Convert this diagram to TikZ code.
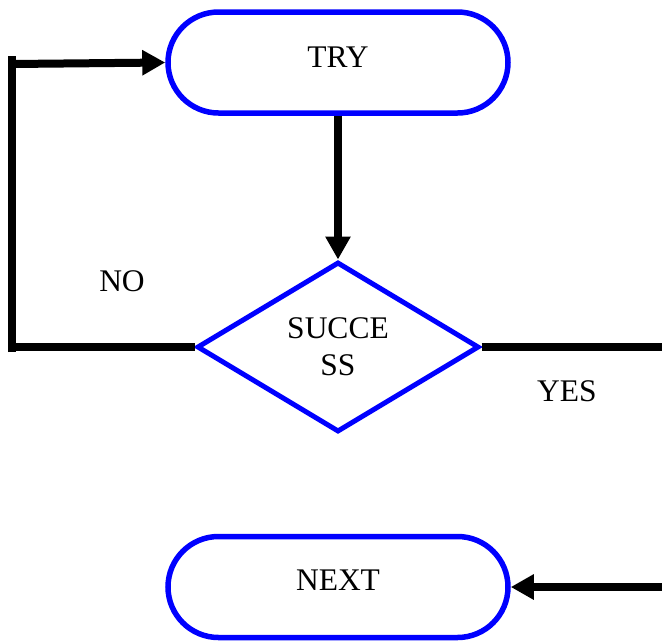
\documentclass[tikz,border=0pt]{standalone}
\usepackage{fontspec}
\setmainfont{Liberation Serif}
\usetikzlibrary{shapes.geometric,shapes.misc,arrows.meta}
\definecolor{fblue}{RGB}{0,0,255}
\tikzset{
  term/.style={rounded rectangle, draw=fblue, line width=5.5pt, minimum width=340pt, minimum height=101pt, inner sep=0pt, font=\fontsize{31.5}{37}\selectfont},
  decide/.style={diamond, draw=fblue, line width=5pt, minimum width=282pt, minimum height=170pt, inner sep=0pt, align=center, font=\fontsize{31.5}{37}\selectfont},
  flow/.style={line width=8pt, black},
  arr/.style={flow, -{Triangle[length=23pt,width=24pt]}},
  lbl/.style={font=\fontsize{31.5}{37}\selectfont, inner sep=0pt}
}
\begin{document}
\begin{tikzpicture}[x=1pt,y=-1pt]
\useasboundingbox (0,0) rectangle (662,641);
\node[term, text depth=10pt] (try) at (338,62.5) {TRY};
\node[decide] (d) at (338,347) {SUCCE\\SS};
\node[term, text depth=14pt] (next) at (338,587) {NEXT};
\node[lbl] (no) at (122,281) {NO};
\node[lbl] (yes) at (567,391) {YES};
\coordinate (lb) at (12,347);
\coordinate (lbx) at (12,352);
\coordinate (ltx) at (12,56);
\coordinate (lt) at (12,64);
\coordinate (rr) at (662,345);
\coordinate (nr) at (662,587);
\draw[arr] (try.south) -- (d.north);
\draw[flow] (d.west) -- (lb);
\draw[flow] (lbx) -- (ltx);
\draw[arr] (lt) -- (try.west);
\draw[flow] (d.east) -- (d.east -| rr);
\draw[arr] (nr) -- (next.east);
\end{tikzpicture}
\end{document}
